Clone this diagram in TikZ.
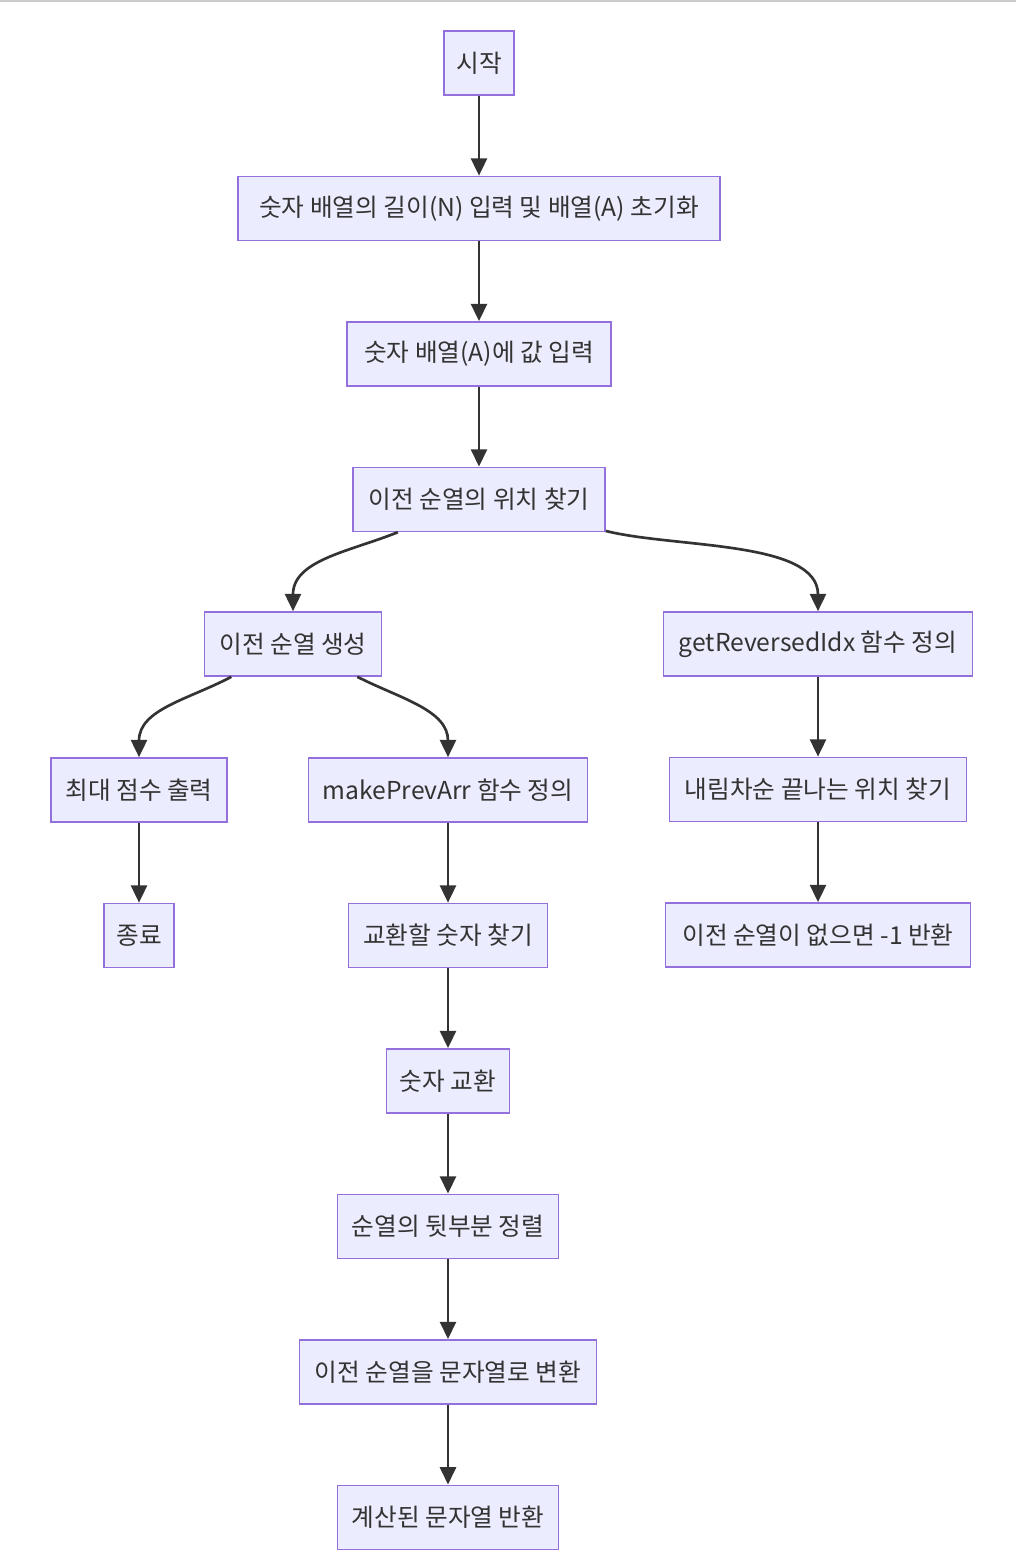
\documentclass[tikz,border=0pt]{standalone}
\usepackage{fontspec}
\setmainfont{Noto Sans CJK KR}
\usetikzlibrary{positioning}
\usetikzlibrary{arrows.meta}
\definecolor{boxfill}{HTML}{ECECFF}
\definecolor{boxline}{HTML}{9370DB}
\definecolor{ink}{HTML}{333333}
\tikzset{
block/.style={draw=boxline, fill=boxfill, line width=1.2pt, text=ink,
	font=\fontsize{18.5}{22}\selectfont, minimum height=48pt, inner sep=0pt,
	minimum width=#1},
flow/.style={draw=ink, line width=2pt, -{Triangle[width=12pt,length=13pt]}},
}

\begin{document}
\begin{tikzpicture}[x=0.75pt, y=-0.75pt, node distance=109.1pt]
\useasboundingbox (0,0) rectangle (1016,1564);
\fill[gray!40] (0,0) rectangle (1016,2);

%Place the nodes
\node[block=52.5pt] (start) at (479,63) {시작};
\node[block=361.5pt, below of=start] (len) {숫자 배열의 길이(N) 입력 및 배열(A) 초기화};
\node[block=198pt, below of=len] (input) {숫자 배열(A)에 값 입력};
\node[block=189pt, below of=input] (find) {이전 순열의 위치 찾기};

\node[block=132.75pt] (gen) at (293,644) {이전 순열 생성};
\node[block=231.75pt] (getrev) at (818,644) {getReversedIdx 함수 정의};

\node[block=132pt] (maxout) at (139,790) {최대 점수 출력};
\node[block=209.25pt] (mkprev) at (448,790) {makePrevArr 함수 정의};
\node[block=222.75pt, below of=getrev] (desc) {내림차순 끝나는 위치 찾기};

\node[block=52.5pt, below of=maxout] (finish) {종료};
\node[block=149.25pt, below of=mkprev] (pick) {교환할 숫자 찾기};
\node[block=228.75pt, below of=desc] (none) {이전 순열이 없으면 -1 반환};

\node[block=92.25pt, below of=pick] (swap) {숫자 교환};
\node[block=165.75pt, below of=swap] (sortback) {순열의 뒷부분 정렬};
\node[block=222.75pt, below of=sortback] (tostr) {이전 순열을 문자열로 변환};
\node[block=165.75pt, below of=tostr] (ret) {계산된 문자열 반환};

%main chain
\draw[flow] (start) -- (len);
\draw[flow] (len) -- (input);
\draw[flow] (input) -- (find);

%branches
\draw[flow] (find) to[out=202, in=90] (gen);
\draw[flow] (find) to[out=-14, in=90, looseness=0.8] (getrev);
\draw[flow] (gen) to[out=208, in=90] (maxout);
\draw[flow] (gen) to[out=-27, in=90] (mkprev);

%
\draw[flow] (maxout) -- (finish);
\draw[flow] (getrev) -- (desc);
\draw[flow] (desc) -- (none);

%
\draw[flow] (mkprev) -- (pick);
\draw[flow] (pick) -- (swap);
\draw[flow] (swap) -- (sortback);
\draw[flow] (sortback) -- (tostr);
\draw[flow] (tostr) -- (ret);

\end{tikzpicture}
\end{document}
